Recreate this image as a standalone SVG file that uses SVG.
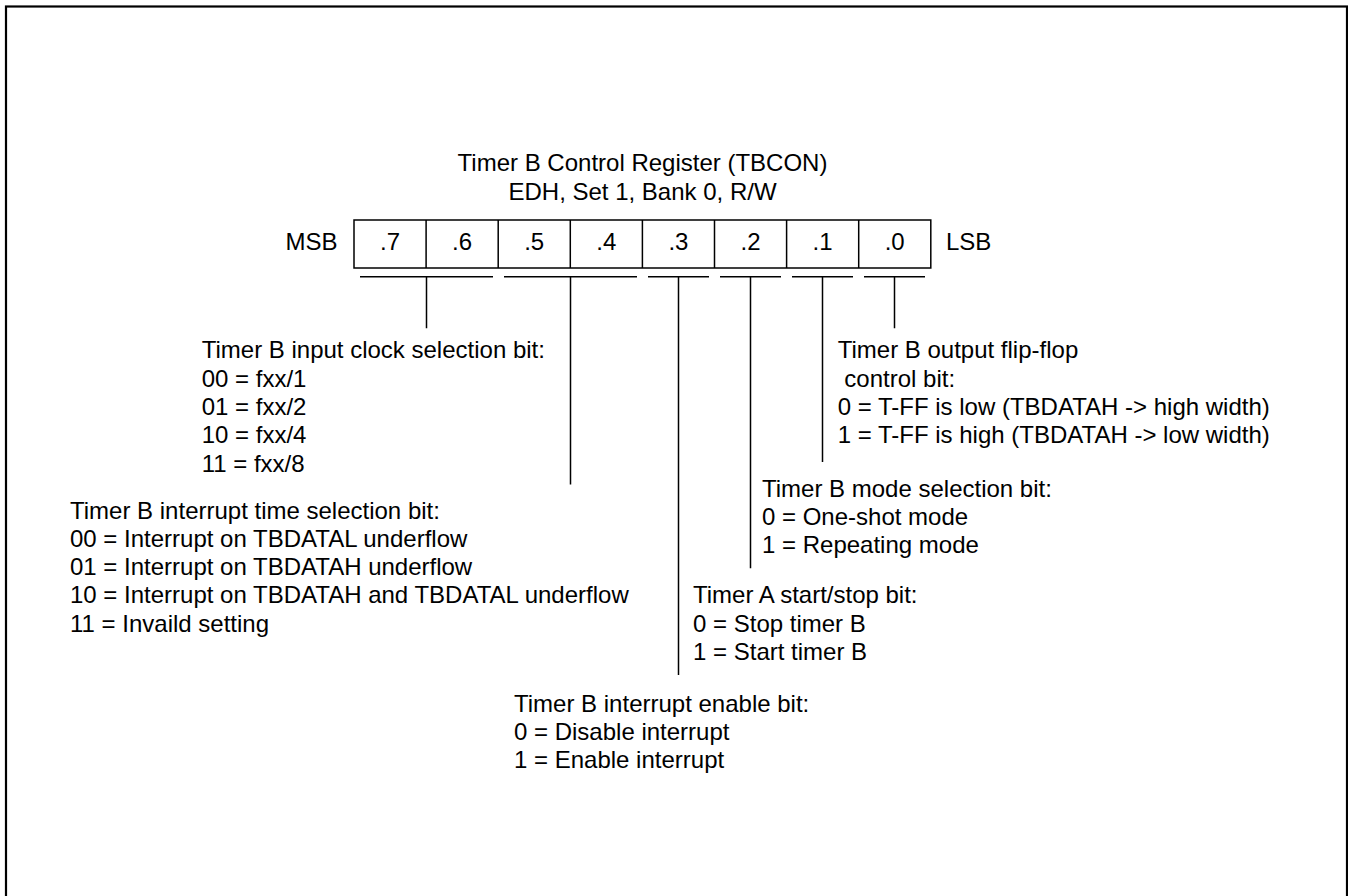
<svg xmlns="http://www.w3.org/2000/svg" width="1348" height="896" viewBox="0 0 1348 896">
<style>
text{font-family:"Liberation Sans",Arial,sans-serif;font-size:24px;fill:#000}
.c{text-anchor:middle}
.ln{stroke:#000;stroke-width:1.5;fill:none}
.box{stroke:#000;stroke-width:1.5;fill:#fff}
</style>
<rect x="0" y="0" width="1348" height="896" fill="#fff"/>
<rect id="frame" x="6" y="6.5" width="1341" height="1000" fill="none" stroke="#000" stroke-width="2.2"/>
<g id="title">
<text class="c" x="642.5" y="170.7">Timer B Control Register (TBCON)</text>
<text class="c" x="642.5" y="200">EDH, Set 1, Bank 0, R/W</text>
</g>
<g id="register">
<rect class="box" x="354" y="220" width="576.8" height="48"/>
<path class="ln" d="M426.1 220V268M498.2 220V268M570.3 220V268M642.4 220V268M714.5 220V268M786.6 220V268M858.7 220V268"/>
<text x="337.5" y="250" text-anchor="end">MSB</text>
<text class="c" x="390" y="250">.7</text>
<text class="c" x="462.1" y="250">.6</text>
<text class="c" x="534.2" y="250">.5</text>
<text class="c" x="606.3" y="250">.4</text>
<text class="c" x="678.4" y="250">.3</text>
<text class="c" x="750.5" y="250">.2</text>
<text class="c" x="822.6" y="250">.1</text>
<text class="c" x="894.7" y="250">.0</text>
<text x="946" y="250">LSB</text>
</g>
<g id="connectors">
<path class="ln" d="M360 276.7H493M504 276.7H637M648 276.7H709M720 276.7H781M792 276.7H853M864 276.7H925"/>
<path class="ln" d="M426.5 276.7V328.3M570.5 276.7V484.5M678.5 276.7V675M750.5 276.7V568.3M822.5 276.7V462M894.5 276.7V328.3"/>
</g>
<g id="bit76">
<text x="201.7" y="358.3">Timer B input clock selection bit:</text>
<text x="201.7" y="386.7">00 = fxx/1</text>
<text x="201.7" y="415">01 = fxx/2</text>
<text x="201.7" y="443.3">10 = fxx/4</text>
<text x="201.7" y="471.7">11 = fxx/8</text>
</g>
<g id="bit54">
<text x="70" y="518.5">Timer B interrupt time selection bit:</text>
<text x="70" y="546.8">00 = Interrupt on TBDATAL underflow</text>
<text x="70" y="575.1">01 = Interrupt on TBDATAH underflow</text>
<text x="70" y="603.4">10 = Interrupt on TBDATAH and TBDATAL underflow</text>
<text x="70" y="631.7">11 = Invaild setting</text>
</g>
<g id="bit3">
<text x="514" y="711.7">Timer B interrupt enable bit:</text>
<text x="514" y="740">0 = Disable interrupt</text>
<text x="514" y="768.3">1 = Enable interrupt</text>
</g>
<g id="bit2">
<text x="693" y="603.4">Timer A start/stop bit:</text>
<text x="693" y="631.7">0 = Stop timer B</text>
<text x="693" y="660">1 = Start timer B</text>
</g>
<g id="bit1">
<text x="762" y="496.7">Timer B mode selection bit:</text>
<text x="762" y="525">0 = One-shot mode</text>
<text x="762" y="553.3">1 = Repeating mode</text>
</g>
<g id="bit0">
<text x="837.7" y="358.3">Timer B output flip-flop</text>
<text x="837.7" y="386.7" xml:space="preserve"> control bit:</text>
<text x="837.7" y="415">0 = T-FF is low (TBDATAH -&gt; high width)</text>
<text x="837.7" y="443.3">1 = T-FF is high (TBDATAH -&gt; low width)</text>
</g>
</svg>
